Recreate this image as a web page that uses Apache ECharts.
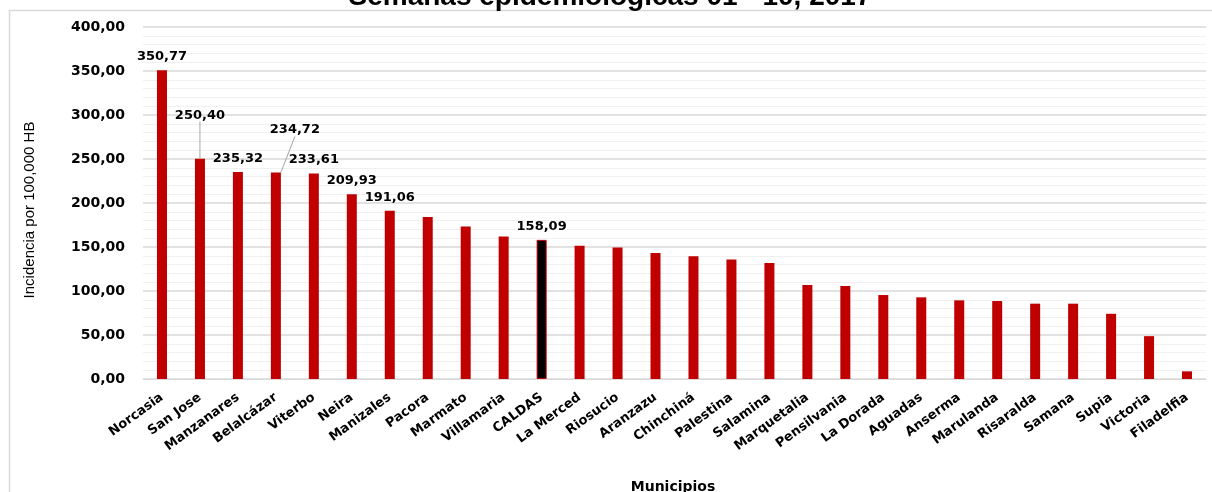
<!DOCTYPE html>
<html>
<head>
<meta charset="utf-8">
<script src="https://cdn.jsdelivr.net/npm/echarts@6/dist/echarts.min.js"></script>
<style>
html,body{margin:0;padding:0;background:#fff;}
#chart{width:1212px;height:492px;}
</style>
</head>
<body>
<div id="chart"></div>
<script>
const categories = ['Norcasia','San Jose','Manzanares','Belalcázar','Viterbo','Neira','Manizales','Pacora','Marmato','Villamaria','CALDAS','La Merced','Riosucio','Aranzazu','Chinchiná','Palestina','Salamina','Marquetalia','Pensilvania','La Dorada','Aguadas','Anserma','Marulanda','Risaralda','Samana','Supia','Victoria','Filadelfia'];
const values = [350.77,250.40,235.32,234.72,233.61,209.93,191.06,184.0,173.3,162.0,158.09,151.3,149.4,143.3,139.5,135.7,131.9,106.8,105.7,95.4,92.8,89.4,88.6,85.6,85.6,74.1,48.7,8.7];
const labeledCategories = ['Norcasia','San Jose','Manzanares','Belalcázar','Viterbo','Neira','Manizales','CALDAS'];
const highlightCategory = 'CALDAS';
const yTicks = [0,50,100,150,200,250,300,350,400];
const titleText = 'Semanas epidemiologicas 01 - 10, 2017';

const chart = echarts.init(document.getElementById('chart'));
const fmt = v => v.toFixed(2).replace('.', ',');

const data = values.map((v, i) => {
  const item = { value: v };
  if (categories[i] === highlightCategory) {
    item.itemStyle = { color: '#000000', borderColor: '#C00000', borderWidth: 1 };
  }
  item.label = { show: labeledCategories.indexOf(categories[i]) >= 0 };
  if (categories[i] === 'San Jose' || categories[i] === 'Belalcázar') {
    item.labelLine = { show: true, lineStyle: { color: '#a6a6a6', width: 1 } };
  }
  return item;
});

chart.setOption({
  animation: false,
  backgroundColor: '#ffffff',
  graphic: [
    { type: 'rect', shape: { x: 9.5, y: 10.5, width: 1300, height: 600 }, style: { fill: 'none', stroke: '#d9d9d9', lineWidth: 1.5 }, z: -1 },
    { type: 'text', x: 610, y: -3, style: { text: titleText, font: 'bold 28px "Liberation Sans", Arial, sans-serif', fill: '#000', align: 'center', verticalAlign: 'middle' } },
    { type: 'text', x: 673, y: 487, style: { text: 'Municipios', font: 'bold 14px "DejaVu Sans", sans-serif', fill: '#000', align: 'center', verticalAlign: 'middle' } }
  ],
  grid: { left: 143, right: 6, top: 27, bottom: 113, containLabel: false },
  xAxis: {
    type: 'category',
    data: categories,
    axisTick: { show: false },
    axisLine: { lineStyle: { color: '#d9d9d9', width: 1 } },
    axisLabel: { rotate: 36, margin: 17, interval: 0, color: '#000', fontFamily: 'DejaVu Sans', fontWeight: 'bold', fontSize: 13 }
  },
  yAxis: {
    type: 'value',
    min: yTicks[0],
    max: yTicks[yTicks.length - 1],
    interval: 50,
    name: 'Incidencia por 100,000 HB',
    nameLocation: 'middle',
    nameGap: 106,
    nameRotate: 90,
    nameTextStyle: { color: '#000', fontFamily: '"Liberation Sans Narrow", "Liberation Sans", sans-serif', fontSize: 15, padding: [0, 0, 0, -14] },
    axisLabel: { formatter: v => fmt(v), margin: 18, color: '#000', fontFamily: 'DejaVu Sans', fontWeight: 'bold', fontSize: 14 },
    axisLine: { show: false },
    axisTick: { show: false },
    splitLine: { lineStyle: { color: '#d9d9d9', width: 1.5 } },
    minorTick: { show: false, splitNumber: 5 },
    minorSplitLine: { show: true, lineStyle: { color: '#f0f0f0', width: 1 } }
  },
  series: [{
    type: 'bar',
    data: data,
    barWidth: 10,
    itemStyle: { color: '#C00000' },
    label: {
      position: 'top',
      distance: 7,
      formatter: p => fmt(p.value),
      color: '#000',
      fontFamily: 'DejaVu Sans',
      fontWeight: 'bold',
      fontSize: 13
    },
    labelLayout: function (params) {
      if (params.dataIndex === 1) return { dy: -30 };
      if (params.dataIndex === 3) return { dx: 19, dy: -29 };
      return {};
    }
  }]
});
</script>
</body>
</html>
